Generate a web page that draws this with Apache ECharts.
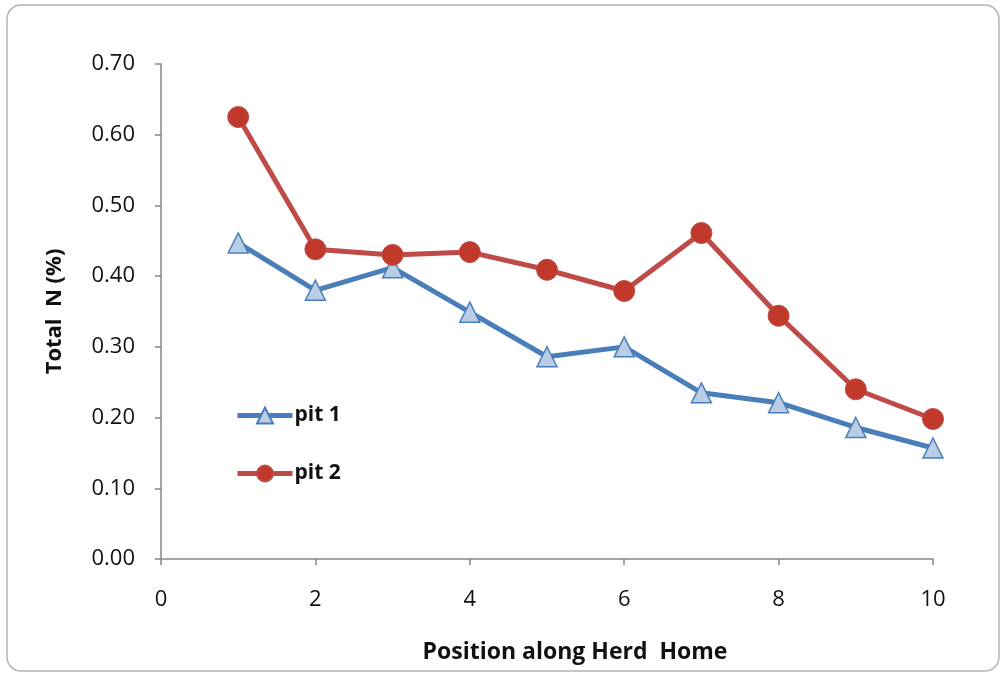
<!DOCTYPE html>
<html><head><meta charset="utf-8">
<script src="https://cdn.jsdelivr.net/npm/echarts@6/dist/echarts.min.js"></script>
<style>html,body{margin:0;padding:0;background:#fff}#c{width:1006px;height:677px}</style>
</head><body><div id="c"></div>
<script>
const positions = [1,2,3,4,5,6,7,8,9,10];
const pit1 = [0.447,0.380,0.412,0.349,0.286,0.300,0.235,0.221,0.186,0.157];
const pit2 = [0.625,0.438,0.430,0.434,0.409,0.379,0.461,0.344,0.240,0.198];
const seriesNames = ['pit 1','pit 2'];
const yAxisTitle = 'Total  N (%)';
const xAxisTitle = 'Position along Herd  Home';

const chart = echarts.init(document.getElementById('c'), null, {renderer:'canvas'});
const font = 'Open Sans';
const axisColor = '#868686';
chart.setOption({
  animation:false,
  backgroundColor:'#fff',
  graphic:[{type:'rect',shape:{x:7,y:5,width:992,height:666,r:14},style:{fill:'none',stroke:'#b4b4b4',lineWidth:1.5}}],
  grid:{left:161,right:73,top:64,bottom:118},
  legend:{orient:'vertical',left:235,top:405,padding:0,itemGap:37,itemWidth:55,itemHeight:20,
    lineStyle:{width:5},
    textStyle:{fontFamily:font,fontSize:21,fontWeight:'bold',color:'#111',padding:[0,0,0,-3]},
    data:seriesNames},
  xAxis:{type:'value',min:0,max:10,interval:2,
    name:xAxisTitle,nameLocation:'middle',nameGap:82,
    nameTextStyle:{fontFamily:font,fontSize:23,fontWeight:'bold',color:'#111',padding:[0,0,0,56]},
    axisLine:{show:true,lineStyle:{color:axisColor,width:1.5}},
    axisTick:{show:true,length:6,lineStyle:{color:axisColor,width:1.5}},
    axisLabel:{fontFamily:font,fontSize:22,color:'#111',margin:30},
    splitLine:{show:false}},
  yAxis:{type:'value',min:0,max:0.7,interval:0.1,
    name:yAxisTitle,nameLocation:'middle',nameGap:95,
    nameTextStyle:{fontFamily:font,fontSize:22,fontWeight:'bold',color:'#111'},
    axisLine:{show:true,lineStyle:{color:axisColor,width:1.5}},
    axisTick:{show:true,length:6,lineStyle:{color:axisColor,width:1.5}},
    axisLabel:{fontFamily:font,fontSize:22,color:'#111',margin:26,formatter:v=>v.toFixed(2)},
    splitLine:{show:false}},
  series:[
    {name:seriesNames[0],type:'line',data:positions.map((x,i)=>[x,pit1[i]]),
     symbol:'triangle',symbolSize:20,
     lineStyle:{color:'#4A7EBB',width:5},
     itemStyle:{color:'#B9CDE5',borderColor:'#4A7EBB',borderWidth:1.5}},
    {name:seriesNames[1],type:'line',data:positions.map((x,i)=>[x,pit2[i]]),
     symbol:'circle',symbolSize:21,
     lineStyle:{color:'#BE4B48',width:5},
     itemStyle:{color:'#C0392B',borderColor:'#BE4B48',borderWidth:1}}
  ]
});
</script></body></html>
